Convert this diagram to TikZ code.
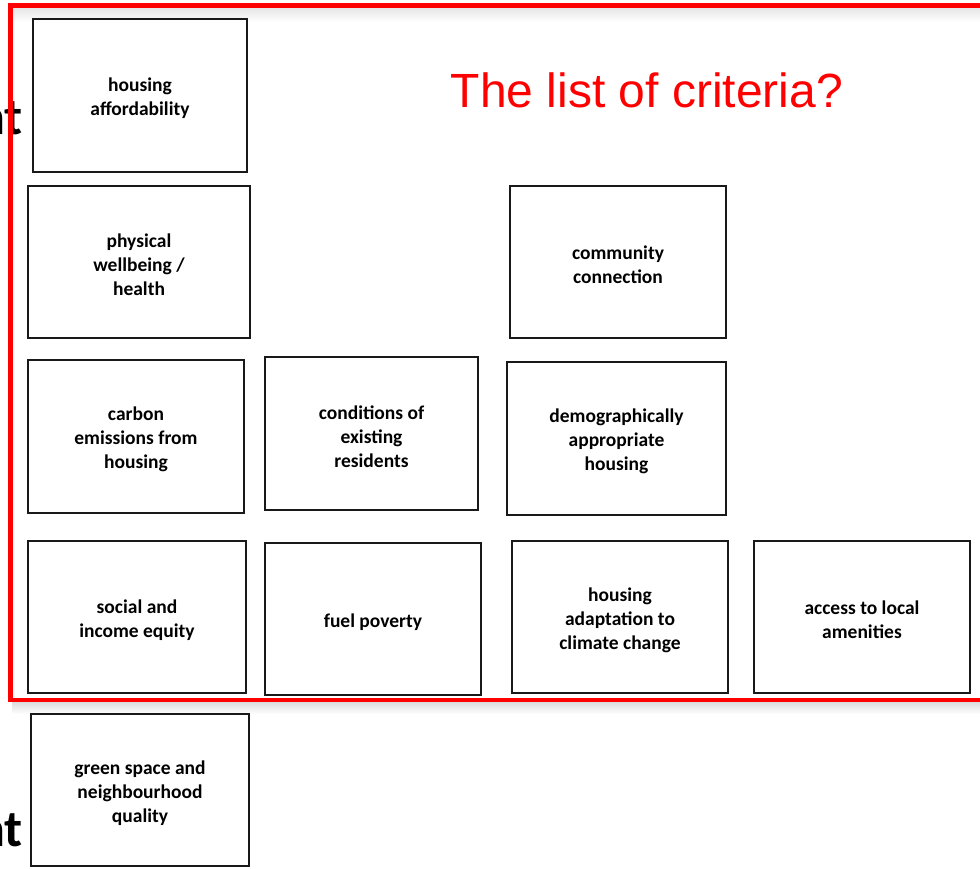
\documentclass[tikz,border=0pt]{standalone}
\usepackage{fontspec}
\setmainfont{Carlito}
\newfontfamily\arialfont{Liberation Sans}
\begin{document}
\begin{tikzpicture}[x=1pt,y=-1pt,
  crit/.style={draw=black!90, line width=1.8pt, fill=white, inner sep=0pt},
  crittext/.style={align=center, font=\fontsize{19.5}{24}\selectfont\bfseries, inner sep=0pt},
  frag/.style={font=\fontsize{52}{54}\selectfont\bfseries, anchor=base east, inner sep=0pt}]
\useasboundingbox (0,0) rectangle (980,868);
\fill[white] (0,0) rectangle (980,868);
% fragments at the left edge
\node[frag] (fragA) at (23,134) {nt};
\node[frag] (fragB) at (23,846) {nt};
% shadow of the frame
\shade[top color=black!14, bottom color=white] (12,702) rectangle (985,714);
\shade[top color=black!10, bottom color=white] (13,7.5) rectangle (985,22);
% red frame
\draw[red, line width=4.5pt] (990,5.5) -- (10.5,5.5) -- (10.5,700) -- (990,700);
% title
\node[font=\arialfont\fontsize{48}{52}\selectfont, text=red, inner sep=0pt] (title) at (647,90) {The list of criteria?};
% criteria boxes
\newcommand{\critbox}[6]{\node[crit, minimum width=#3-#1, minimum height=#4-#2] (#5) at ({(#1+#3)/2},{(#2+#4)/2}) {};
  \node[crittext] (#5-text) at ([yshift=-3pt]#5.center) {#6};}
\critbox{33}{19}{247}{172}{afford}{housing\\affordability}
\critbox{28}{186}{250}{338}{health}{physical\\wellbeing /\\health}
\critbox{510}{186}{726}{338}{community}{community\\connection}
\critbox{28}{360}{244}{513}{carbon}{carbon\\emissions from\\housing}
\critbox{265}{357}{478}{510}{conditions}{conditions of\\existing\\residents}
\critbox{507}{362}{726}{515}{demog}{demographically\\appropriate\\housing}
\critbox{28}{541}{246}{693}{equity}{social and\\income equity}
\critbox{265}{543}{481}{695}{fuel}{fuel poverty}
\critbox{512}{541}{728}{693}{adapt}{housing\\adaptation to\\climate change}
\critbox{754}{541}{970}{693}{access}{access to local\\amenities}
\critbox{31}{714}{249}{866}{green}{green space and\\neighbourhood\\quality}
\end{tikzpicture}
\end{document}
